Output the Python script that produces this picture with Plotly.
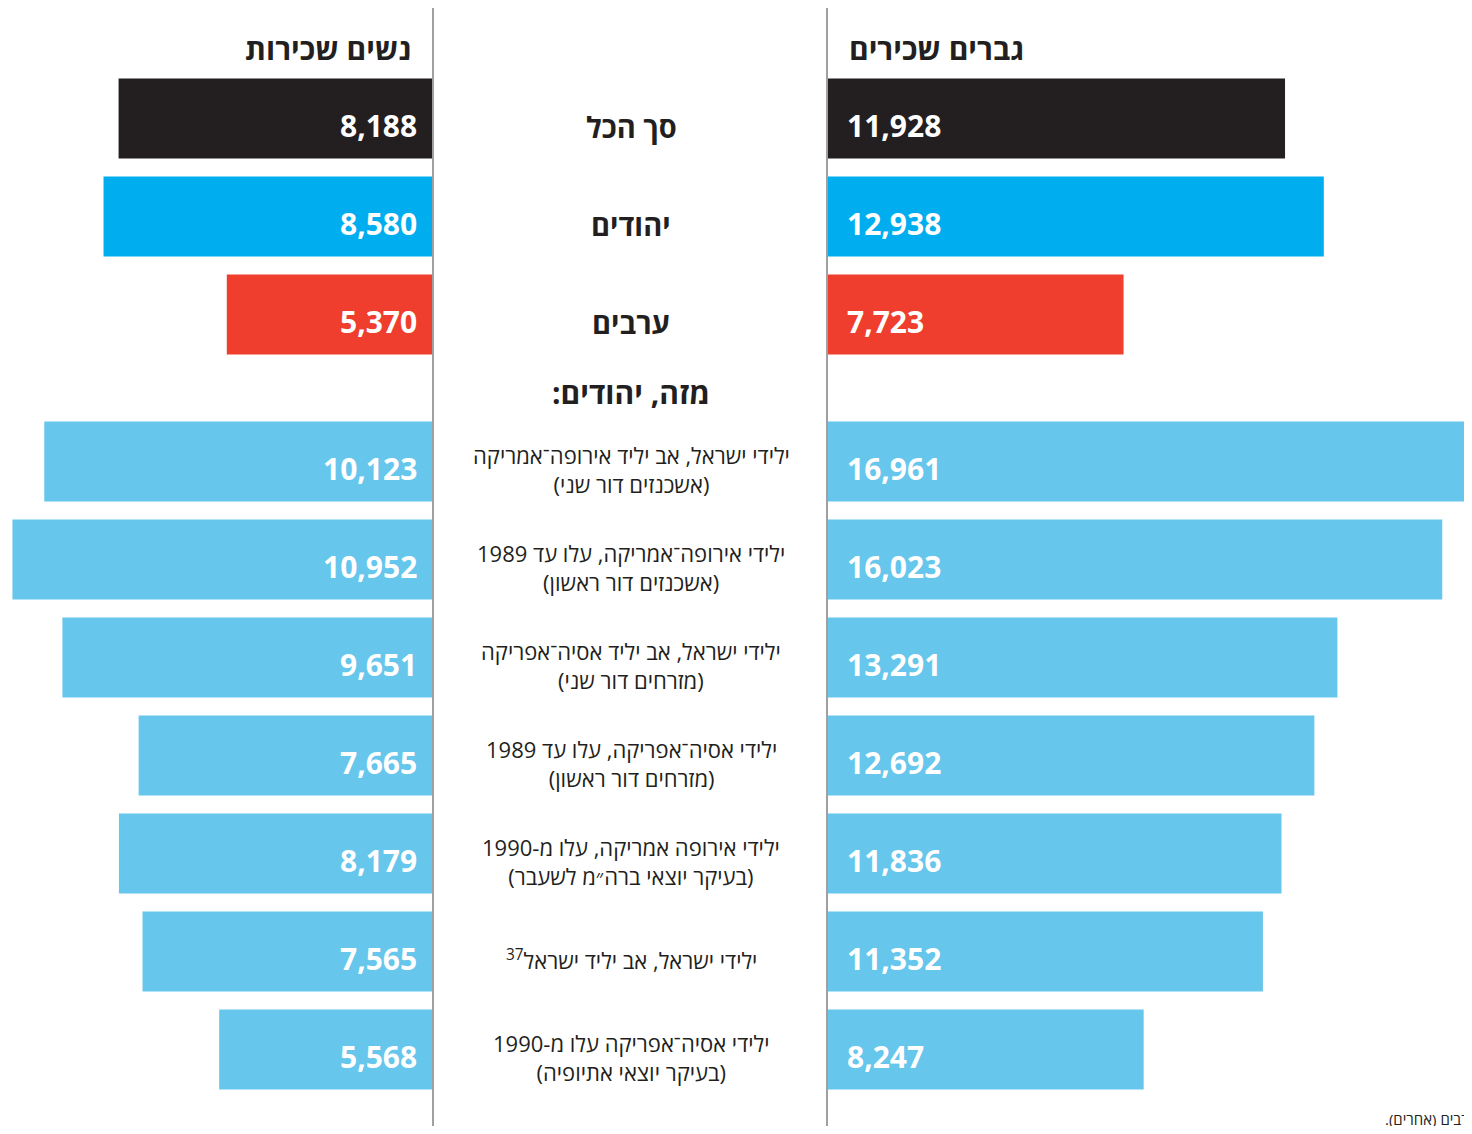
import plotly.graph_objects as go

# data
groups = ["סך הכל", "יהודים", "ערבים",
          "ילידי ישראל, אב יליד אירופה־אמריקה<br>(אשכנזים דור שני)",
          "ילידי אירופה־אמריקה, עלו עד 1989<br>(אשכנזים דור ראשון)",
          "ילידי ישראל, אב יליד אסיה־אפריקה<br>(מזרחים דור שני)",
          "ילידי אסיה־אפריקה, עלו עד 1989<br>(מזרחים דור ראשון)",
          "ילידי אירופה אמריקה, עלו מ-1990<br>(בעיקר יוצאי ברה״מ לשעבר)",
          "ילידי ישראל, אב יליד ישראל<sup>37</sup>",
          "ילידי אסיה־אפריקה עלו מ-1990<br>(בעיקר יוצאי אתיופיה)"]
women = [8188, 8580, 5370, 10123, 10952, 9651, 7665, 8179, 7565, 5568]
men = [11928, 12938, 7723, 16961, 16023, 13291, 12692, 11836, 11352, 8247]
colors = ["#231f20", "#00aeef", "#ef3e2e"] + ["#66c6ec"] * 7

# the page body adds an 8px margin, so the figure is smaller and shifted
OFF = 8
W, H = 1472 - OFF, 1134 - 2 * OFF
PX = 38.4  # pixels per 1000
rows = [0, 1, 2, 3.5, 4.5, 5.5, 6.5, 7.5, 8.5, 9.5]
ROW0, STEP = 118.5 - OFF, 98
TXT = "#231f20"
FONT = "Open Sans"


def px(x):
    return (x - OFF) / W


def py(y):
    return 1 - (y - OFF) / H


fig = go.Figure()
fig.add_trace(go.Bar(y=rows, x=women, orientation="h", marker=dict(color=colors, line=dict(width=0)),
                     width=0.816, xaxis="x", yaxis="y", hoverinfo="skip"))
fig.add_trace(go.Bar(y=rows, x=men, orientation="h", marker=dict(color=colors, line=dict(width=0)),
                     width=0.816, xaxis="x2", yaxis="y", hoverinfo="skip"))

ann = []
for r, w, m, g in zip(rows, women, men, groups):
    ann.append(dict(x=0, y=r, xref="x", yref="y", text=f"{w:,}", showarrow=False,
                    xanchor="right", xshift=-14, yshift=-7,
                    font=dict(family=FONT, size=30, color="white", weight="bold")))
    ann.append(dict(x=0, y=r, xref="x2", yref="y", text=f"{m:,}", showarrow=False,
                    xanchor="left", xshift=18, yshift=-7,
                    font=dict(family=FONT, size=30, color="white", weight="bold")))
    big = "<br>" not in g and "<sup>" not in g
    ann.append(dict(x=px(631), y=r, xref="paper", yref="y", text=g, showarrow=False,
                    xanchor="center", align="center", yshift=-8,
                    font=dict(family=FONT, size=29 if big else 22, color=TXT,
                              weight="bold" if big else "normal")))

ann.append(dict(x=px(631), y=2.8, xref="paper", yref="y", text="מזה, יהודים:\u200f", showarrow=False,
                xanchor="center", font=dict(family=FONT, size=30, color=TXT, weight="bold")))
ann.append(dict(x=px(413), y=py(48), xref="paper", yref="paper", text="נשים שכירות", showarrow=False,
                xanchor="right", yanchor="middle", font=dict(family=FONT, size=30, color=TXT, weight="bold")))
ann.append(dict(x=px(847), y=py(48), xref="paper", yref="paper", text="גברים שכירים", showarrow=False,
                xanchor="left", yanchor="middle", font=dict(family=FONT, size=30, color=TXT, weight="bold")))
ann.append(dict(x=px(1383), y=py(1119), xref="paper", yref="paper", text="ערבים (אחרים).\u200f",
                showarrow=False, xanchor="left", yanchor="middle", font=dict(family=FONT, size=15, color=TXT)))

shapes = [dict(type="line", xref="paper", yref="paper", x0=px(xp), x1=px(xp), y0=0, y1=1,
               line=dict(color="#a0a0a0", width=2)) for xp in (433, 827)]

fig.update_layout(
    width=W, height=H, margin=dict(l=0, r=0, t=0, b=0),
    paper_bgcolor="white", plot_bgcolor="white", showlegend=False,
    xaxis=dict(domain=[0, px(433)], range=[(433 - OFF) / PX * 1000, 0], visible=False, fixedrange=True),
    xaxis2=dict(domain=[px(827), 1], range=[0, (1472 - 827) / PX * 1000], visible=False, anchor="y",
                fixedrange=True),
    yaxis=dict(range=[(H - ROW0) / STEP, -ROW0 / STEP], visible=False, anchor="x", fixedrange=True),
    annotations=ann, shapes=shapes,
)

fig.write_html("out.html")
